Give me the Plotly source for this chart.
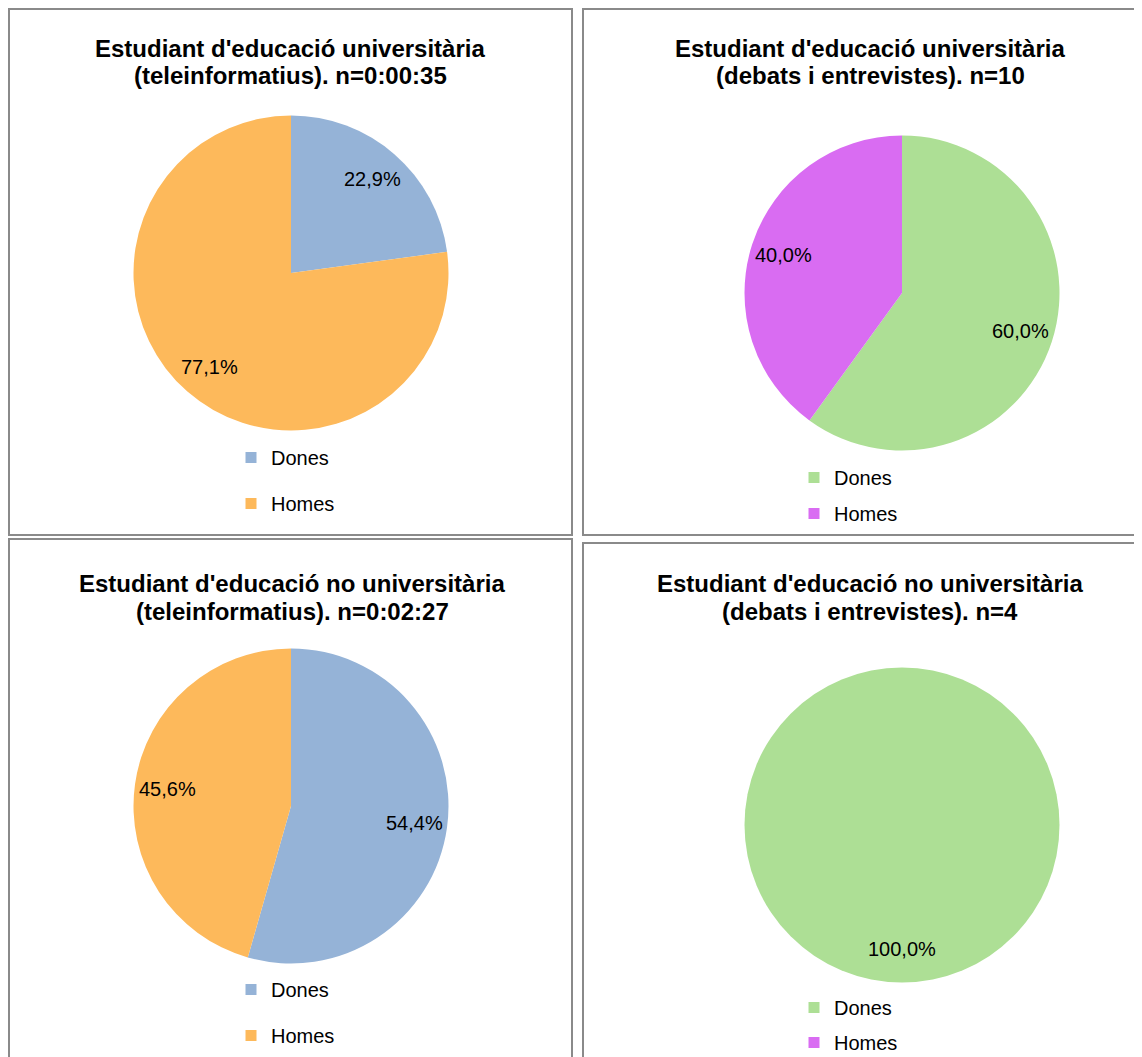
import math
import plotly.graph_objects as go

W, H = 1142, 1057

# ---------------- data ----------------
categories = ["Dones", "Homes"]
title_line1 = [
    "Estudiant d'educació universitària",
    "Estudiant d'educació universitària",
    "Estudiant d'educació no universitària",
    "Estudiant d'educació no universitària",
]
title_line2 = [
    "(teleinformatius). n=0:00:35",
    "(debats i entrevistes). n=10",
    "(teleinformatius). n=0:02:27",
    "(debats i entrevistes). n=4",
]
values_univ_tele = [8, 27]      # seconds (0:00:35)
values_univ_debat = [6, 4]      # n=10
values_nouniv_tele = [80, 67]   # seconds (0:02:27)
values_nouniv_debat = [4, 0]    # n=4
colors_tele = ["#95B3D7", "#FDB95B"]
colors_debat = ["#ADDF95", "#D96CF2"]

values = [values_univ_tele, values_univ_debat, values_nouniv_tele, values_nouniv_debat]
colors = [colors_tele, colors_debat, colors_tele, colors_debat]

# ---------------- layout geometry (pixels in the browser window) ----------------
FONT = "Arial, Liberation Sans, sans-serif"
OFF = 8  # default page body margin that offsets the figure in the window
R = 157.5
pie_centers = [(291, 273), (902, 293), (291, 806), (902, 825)]
title_x = [290, 870, 292, 870]
title_y = [(48, 76), (48, 76), (583, 611), (583, 611)]
legend_pos = [(231, 438), (794, 458), (231, 970), (794, 988)]
legend_gap = [17, 7, 17, 6]
panels = [(4, 7, 572, 535), (583, 7, 1162, 535), (4, 539, 572, 1075), (583, 543, 1162, 1075)]


def px(x):
    return (max(x, OFF + 1) - OFF) / W


def py(y):
    return 1 - (max(y, OFF + 1) - OFF) / H


fig = go.Figure()
annotations = []
shapes = []

for i in range(4):
    cx, cy = pie_centers[i]
    fig.add_trace(go.Pie(
        labels=categories,
        values=values[i],
        marker=dict(colors=colors[i], line=dict(width=0)),
        sort=False,
        direction="clockwise",
        rotation=0,
        textinfo="none",
        hoverinfo="label+percent",
        showlegend=False,
        domain=dict(x=[px(cx - R), px(cx + R)], y=[py(cy + R), py(cy - R)]),
    ))
    # data labels (placed along each slice's mid-angle)
    total = sum(values[i])
    cum = 0
    for v in values[i]:
        if v > 0:
            mid = (cum + v / 2) / total * 2 * math.pi
            lx = cx + 0.79 * R * math.sin(mid)
            ly = cy - 0.79 * R * math.cos(mid)
            txt = f"{v / total * 100:.1f}".replace(".", ",") + "%"
            annotations.append(dict(
                x=px(lx), y=py(ly), xref="paper", yref="paper", text=txt,
                showarrow=False, font=dict(family=FONT, size=20, color="#000000"),
                xanchor="center", yanchor="middle"))
        cum += v
    # titles
    for line, ty in zip([title_line1[i], title_line2[i]], title_y[i]):
        annotations.append(dict(
            x=px(title_x[i]), y=py(ty), xref="paper", yref="paper",
            text=f"<b>{line}</b>", showarrow=False,
            font=dict(family=FONT, size=24, color="#000000"),
            xanchor="center", yanchor="middle"))
    # legend entries
    lname = "legend" if i == 0 else f"legend{i + 1}"
    for k, cat in enumerate(categories):
        fig.add_trace(go.Scatter(
            x=[None], y=[None], mode="markers", name=cat,
            marker=dict(symbol="square", size=11, color=colors[i][k]),
            legend=lname, legendgroup=f"g{i}_{k}", showlegend=True,
            hoverinfo="skip"))
    # panel border
    x0, y0, x1, y1 = panels[i]
    shapes.append(dict(type="rect", xref="paper", yref="paper",
                       x0=px(x0), x1=px(x1), y0=py(y1), y1=py(y0),
                       line=dict(color="#8A8A8A", width=2), fillcolor="rgba(0,0,0,0)"))

legend_common = dict(font=dict(family=FONT, size=20, color="#000000"),
                     bgcolor="rgba(0,0,0,0)", borderwidth=0,
                     xanchor="left", yanchor="top", orientation="v")
layout_legends = {}
for i in range(4):
    lname = "legend" if i == 0 else f"legend{i + 1}"
    lx, ly = legend_pos[i]
    layout_legends[lname] = dict(legend_common, x=px(lx), y=py(ly),
                                 tracegroupgap=legend_gap[i])

fig.update_layout(
    width=W, height=H,
    margin=dict(l=0, r=0, t=0, b=0),
    paper_bgcolor="#FFFFFF", plot_bgcolor="#FFFFFF",
    xaxis=dict(visible=False, range=[0, 1]),
    yaxis=dict(visible=False, range=[0, 1]),
    annotations=annotations,
    shapes=shapes,
    **layout_legends,
)

fig.write_html("out.html", config=dict(displayModeBar=False))
